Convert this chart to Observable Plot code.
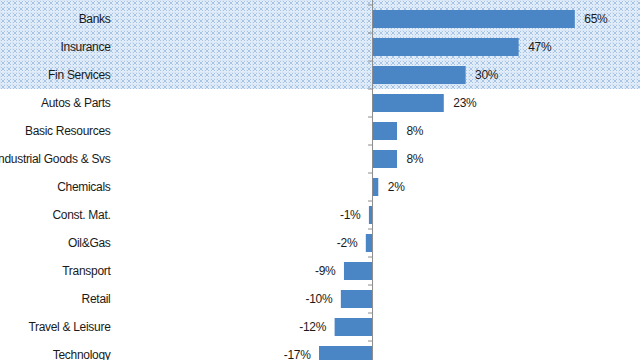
<!DOCTYPE html>
<html><head><meta charset="utf-8">
<script src="https://cdn.jsdelivr.net/npm/d3@7"></script>
<script src="https://cdn.jsdelivr.net/npm/@observablehq/plot@0.6"></script>
<style>
html,body{margin:0;padding:0;overflow:hidden;background:#fff}
#chart svg{display:block}
#chart svg text{letter-spacing:-0.3px}
</style>
</head><body><div id="chart"></div>
<script>
const sectors = ["Banks","Insurance","Fin Services","Autos & Parts","Basic Resources","Industrial Goods & Svs","Chemicals","Const. Mat.","Oil&Gas","Transport","Retail","Travel & Leisure","Technology"];
const values = [65,47,30,23,8,8,2,-1,-2,-9,-10,-12,-17];
const highlighted = ["Banks","Insurance","Fin Services"];
const labels = values.map(v => v + "%");

const data = sectors.map((s, i) => ({sector: s, value: values[i], label: labels[i]}));

const NS = "http://www.w3.org/2000/svg";
function el(tag, attrs) {
  const e = document.createElementNS(NS, tag);
  for (const k in attrs) e.setAttribute(k, attrs[k]);
  return e;
}

function backdrop(index, scales, vals, dims) {
  const y = scales.y, bw = y.bandwidth();
  const step = y(sectors[1]) - y(sectors[0]);
  const gap = step - bw;
  const last = highlighted[highlighted.length - 1];
  const bottom = y(last) + bw + gap / 2;
  const g = el("g", {});
  const defs = el("defs", {});
  const pat = el("pattern", {id: "xhatch", width: 6, height: 6, patternUnits: "userSpaceOnUse"});
  pat.appendChild(el("rect", {width: 6, height: 6, fill: "#e3edf8"}));
  pat.appendChild(el("path", {d: "M1,1L5,5M5,1L1,5", stroke: "#98bae0", "stroke-width": 0.8, fill: "none"}));
  pat.appendChild(el("path", {d: "M0,0H6M0,0V6", stroke: "#c6daf0", "stroke-width": 0.6, fill: "none"}));
  defs.appendChild(pat);
  g.appendChild(defs);
  g.appendChild(el("rect", {x: 0, y: 0, width: dims.width, height: bottom, fill: "url(#xhatch)"}));
  return g;
}

function axisTicks(index, scales, vals, dims) {
  const x = scales.x, y = scales.y, bw = y.bandwidth();
  const step = y(sectors[1]) - y(sectors[0]);
  const gap = step - bw;
  const g = el("g", {stroke: "#8c8c8c", "stroke-width": 1});
  const x0 = x(0);
  const ys = [y(sectors[0]) - gap / 2, ...sectors.map(s => y(s) + bw + gap / 2)];
  for (const yy of ys) g.appendChild(el("line", {x1: x0 - 4, x2: x0, y1: yy, y2: yy}));
  return g;
}

const chart = Plot.plot({
  width: 640,
  height: 382,
  marginTop: 0,
  marginBottom: 8,
  marginLeft: 115,
  marginRight: 0,
  style: {fontFamily: "'Liberation Sans', Arial, sans-serif", fontSize: "12px", color: "#1a1a1a", background: "#fff"},
  x: {domain: [-82.4, 85.9], axis: null},
  y: {domain: sectors, paddingInner: 0.368, paddingOuter: 0.245, label: null},
  marks: [
    backdrop,
    Plot.barX(data, {y: "sector", x: "value", fill: "#4a86c6"}),
    Plot.ruleX([0], {stroke: "#8c8c8c", strokeWidth: 1}),
    axisTicks,
    Plot.text(data.filter(d => d.value >= 0), {y: "sector", x: "value", text: "label", textAnchor: "start", dx: 9, fill: "#1a1a1a", fontSize: 12}),
    Plot.text(data.filter(d => d.value < 0), {y: "sector", x: "value", text: "label", textAnchor: "end", dx: -9, fill: "#1a1a1a", fontSize: 12}),
    Plot.axisY({tickSize: 0, tickPadding: 5, fontSize: 12, fill: "#1a1a1a", label: null})
  ]
});
document.getElementById("chart").appendChild(chart);
</script>
</body></html>
